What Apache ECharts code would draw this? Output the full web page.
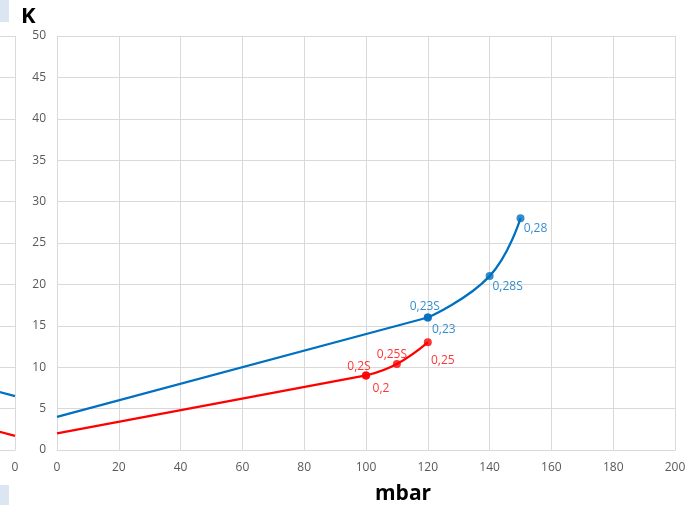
<!DOCTYPE html>
<html>
<head>
<meta charset="utf-8">
<style>html,body{margin:0;padding:0;background:#fff;}#c{width:690px;height:505px;}</style>
<script src="https://cdn.jsdelivr.net/npm/echarts@6/dist/echarts.min.js"></script>
</head>
<body>
<div id="c"></div>
<script>
// ---- data ----
var xTicks = [0, 20, 40, 60, 80, 100, 120, 140, 160, 180, 200];
var yTicks = [0, 5, 10, 15, 20, 25, 30, 35, 40, 45, 50];
var blueStraight = [[0, 4], [120, 16]];
var blueCurve = [[120, 16], [140, 21], [150, 28]];
var bluePoints = [[120, 16], [120, 16], [140, 21], [150, 28]];
var blueLabels = ['0,23S', '0,23', '0,28S', '0,28'];
var redStraight = [[0, 2], [100, 9]];
var redCurve = [[100, 9], [110, 10.4], [120, 13]];
var redPoints = [[100, 9], [100, 9], [110, 10.4], [120, 13]];
var redLabels = ['0,2S', '0,2', '0,25S', '0,25'];
// neighbouring (cropped) chart on the left
var leftBlue = [[0, 6.5], [20, 8.5]];
var leftRed = [[0, 1.7], [20, 3.7]];

// ---- styles ----
var BLUE = '#0070C0', RED = '#FF0000', GRID = '#d9d9d9', TXT = '#595959';
var FONT = 'Open Sans';
var blueOffsets = [[-3, -11], [16, 12], [18, 10], [15, 10]];
var redOffsets = [[-7, -9], [15, 13], [-5, -9], [15, 18]];

function pts(data, labels, offsets, color) {
  return data.map(function (d, i) {
    return {
      value: d,
      label: {
        show: true, formatter: labels[i], position: 'inside',
        align: 'center', verticalAlign: 'middle',
        offset: offsets[i], color: color, fontSize: 12, fontFamily: FONT
      }
    };
  });
}

var chart = echarts.init(document.getElementById('c'), null, {renderer: 'canvas'});
var axisX = function (gi, inverse) {
  return {
    type: 'value', gridIndex: gi, min: xTicks[0], max: xTicks[xTicks.length - 1], interval: 20,
    inverse: inverse,
    axisLine: {show: true, lineStyle: {color: GRID, width: 1}},
    axisTick: {show: false},
    axisLabel: {color: TXT, fontSize: 12, fontFamily: FONT, margin: 12},
    splitLine: {show: true, lineStyle: {color: GRID, width: 1}}
  };
};
var axisY = function (gi, labels) {
  return {
    type: 'value', gridIndex: gi, min: yTicks[0], max: yTicks[yTicks.length - 1], interval: 5,
    axisLine: {show: false}, axisTick: {show: false},
    axisLabel: {show: labels, color: TXT, fontSize: 12, fontFamily: FONT, margin: 11},
    splitLine: {show: true, lineStyle: {color: GRID, width: 1}}
  };
};
var lineS = function (data, color, smooth, xi) {
  return {
    type: 'line', data: data, xAxisIndex: xi, yAxisIndex: xi, showSymbol: false, symbol: 'none',
    smooth: smooth, lineStyle: {color: color, width: 2.25}, silent: true, animation: false, z: 2
  };
};

chart.setOption({
  animation: false,
  title: [
    {text: 'K', left: 16, top: 1, textStyle: {fontSize: 22, fontWeight: 'bold', color: '#000', fontFamily: FONT}},
    {text: 'mbar', left: 370, top: 479, textStyle: {fontSize: 21, fontWeight: 'bold', color: '#000', fontFamily: FONT}}
  ],
  graphic: [
    {type: 'rect', left: 0, top: 0, shape: {width: 9, height: 22}, style: {fill: '#dce6f2'}},
    {type: 'rect', left: 0, top: 485, shape: {width: 9, height: 20}, style: {fill: '#dce6f2'}}
  ],
  grid: [
    {left: 57, right: 15, top: 36, bottom: 55, outerBoundsMode: 'none', containLabel: false},
    {left: -603, width: 618, top: 36, bottom: 55, outerBoundsMode: 'none', containLabel: false}
  ],
  xAxis: [axisX(0, false), axisX(1, true)],
  yAxis: [axisY(0, true), axisY(1, false)],
  series: [
    lineS(blueStraight, BLUE, false, 0),
    lineS(blueCurve, BLUE, 0.45, 0),
    lineS(redStraight, RED, false, 0),
    lineS(redCurve, RED, 0.45, 0),
    {type: 'scatter', data: pts(bluePoints, blueLabels, blueOffsets, BLUE), symbolSize: 8,
     itemStyle: {color: BLUE}, z: 3},
    {type: 'scatter', data: pts(redPoints, redLabels, redOffsets, RED), symbolSize: 8,
     itemStyle: {color: RED}, z: 3},
    lineS(leftBlue, BLUE, false, 1),
    lineS(leftRed, RED, false, 1)
  ]
});
</script>
</body>
</html>
